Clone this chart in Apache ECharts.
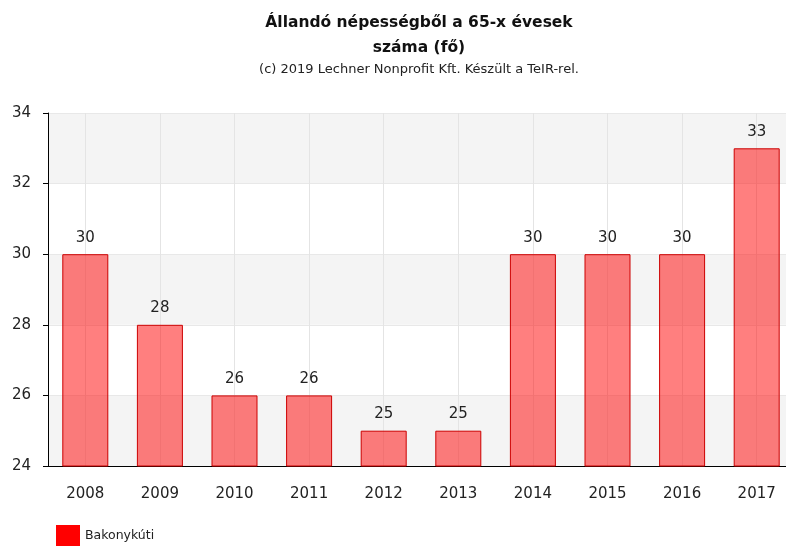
<!DOCTYPE html>
<html>
<head>
<meta charset="utf-8">
<script src="https://cdn.jsdelivr.net/npm/echarts@6/dist/echarts.min.js"></script>
<style>
  html, body { margin: 0; padding: 0; background: #fff; overflow: hidden; }
  #chart { width: 794px; height: 546px; }
</style>
</head>
<body>
<div id="chart"></div>
<script>
var years = ['2008', '2009', '2010', '2011', '2012', '2013', '2014', '2015', '2016', '2017'];
var values = [30, 28, 26, 26, 25, 25, 30, 30, 30, 33];
var seriesName = 'Bakonykúti';

var chart = echarts.init(document.getElementById('chart'));
var font = 'Verdana, "DejaVu Sans", sans-serif';

chart.setOption({
  backgroundColor: '#fff',
  animation: false,
  title: [{
    text: 'Állandó népességből a 65-x évesek\nszáma (fő)',
    left: 414,
    textAlign: 'center',
    top: 5,
    textStyle: { fontFamily: font, fontSize: 15.5, fontWeight: 'bold', color: '#111', lineHeight: 25 }
  }, {
    text: '(c) 2019 Lechner Nonprofit Kft. Készült a TeIR-rel.',
    left: 414,
    textAlign: 'center',
    top: 57,
    textStyle: { fontFamily: font, fontSize: 13, fontWeight: 'normal', color: '#222', lineHeight: 15 }
  }],
  legend: {
    left: 51,
    top: 520,
    itemWidth: 24,
    itemHeight: 21,
    icon: 'rect',
    textStyle: { fontFamily: font, fontSize: 12.5, color: '#222' },
    data: [{ name: seriesName, itemStyle: { color: '#ff0000', borderWidth: 0 } }]
  },
  grid: { left: 48, right: 0, top: 113, bottom: 80 },
  xAxis: {
    type: 'category',
    data: years,
    axisLine: { lineStyle: { color: '#000' } },
    axisTick: { alignWithLabel: true, length: 5, lineStyle: { color: '#000' } },
    axisLabel: { fontFamily: font, fontSize: 15, color: '#222', margin: 21 },
    splitLine: { show: true, alignWithLabel: true, lineStyle: { color: '#e4e4e4' } }
  },
  yAxis: {
    type: 'value',
    min: 24,
    max: 34,
    interval: 2,
    axisLine: { show: true, lineStyle: { color: '#000' } },
    axisTick: { show: true, length: 5, lineStyle: { color: '#000' } },
    axisLabel: { fontFamily: font, fontSize: 15, color: '#222', margin: 17 },
    splitLine: { show: true, lineStyle: { color: '#e8e8e8' } },
    splitArea: { show: true, areaStyle: { color: ['#f4f4f4', '#ffffff'] } }
  },
  series: [{
    name: seriesName,
    type: 'bar',
    data: values,
    barWidth: 46,
    itemStyle: { color: 'rgba(255,0,0,0.5)', borderColor: '#cc0000', borderWidth: 1 },
    label: { show: true, position: 'top', distance: 9, fontFamily: font, fontSize: 15, color: '#222' }
  }]
});
</script>
</body>
</html>
